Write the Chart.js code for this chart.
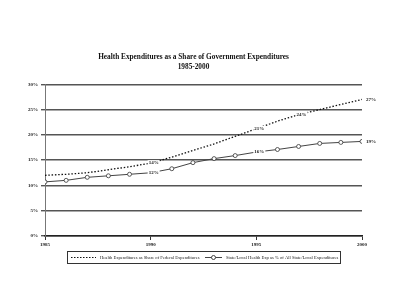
<!DOCTYPE html>
<html>

<head>
  <title>Health Expenditures as a Share of Government Expenditures</title>
  <script src="https://cdn.jsdelivr.net/npm/chart.js"></script>
  <style>
    body { margin: 0; background: #fff; }
  </style>
</head>

<body>
  <canvas id="myChart" width="400" height="306" style="display:block;width:400px;height:306px;"></canvas>
  <script>
    // data
    var years = [1985, 1986, 1987, 1988, 1989, 1990, 1991, 1992, 1993, 1994, 1995, 1996, 1997, 1998, 1999, 2000];
    var federalShare = [12.0, 12.2, 12.5, 13.1, 13.7, 14.4, 15.6, 16.9, 18.2, 19.7, 21.2, 22.7, 24.0, 25.0, 26.0, 27.0];
    var stateLocalShare = [10.7, 11.0, 11.6, 11.9, 12.2, 12.5, 13.3, 14.5, 15.3, 15.9, 16.6, 17.1, 17.7, 18.3, 18.5, 18.7];
    var federalLabelYears = [1990, 1995, 1997, 2000];
    var federalLabelText = ['14%', '21%', '24%', '27%'];
    var stateLabelYears = [1990, 1995, 2000];
    var stateLabelText = ['12%', '16%', '19%'];
    var xTicks = [1985, 1990, 1995, 2000];
    var yTicks = [0, 5, 10, 15, 20, 25, 30];
    var seriesNames = ['Health Expenditures as Share of Federal Expenditures', 'State/Local Health Exp as % of All State/Local Expenditures'];

    function toPoints(vals) {
      return years.map(function (yr, i) { return { x: yr, y: vals[i] }; });
    }

    // value labels + boxed legend
    var extras = {
      id: 'extras',
      afterDatasetsDraw: function (chart) {
        var c = chart.ctx;
        var xs = chart.scales.x, ys = chart.scales.y;
        c.save();
        c.font = 'bold 5px "Liberation Serif"';
        c.textBaseline = 'middle';
        function put(labYears, labText, vals) {
          labYears.forEach(function (yr, k) {
            var v = vals[years.indexOf(yr)];
            var px = xs.getPixelForValue(yr), py = ys.getPixelForValue(v);
            var w = c.measureText(labText[k]).width;
            var lx = (yr === 2000) ? px + 4 : px + 3 - w / 2;
            c.fillStyle = '#fff';
            c.fillRect(lx - 1, py - 3, w + 2, 6);
            c.fillStyle = '#222';
            c.textAlign = 'left';
            c.fillText(labText[k], lx, py);
          });
        }
        put(federalLabelYears, federalLabelText, federalShare);
        put(stateLabelYears, stateLabelText, stateLocalShare);

        // legend box
        var bx = 67, by = 251, bw = 273, bh = 12;
        c.strokeStyle = '#333';
        c.lineWidth = 1;
        c.strokeRect(bx + 0.5, by + 0.5, bw, bh);
        var my = by + bh / 2 + 0.5;
        c.setLineDash([1.5, 1.5]);
        c.lineWidth = 1.2;
        c.strokeStyle = '#111';
        c.beginPath(); c.moveTo(71, my); c.lineTo(96, my); c.stroke();
        c.setLineDash([]);
        c.lineWidth = 1;
        c.strokeStyle = '#444';
        c.beginPath(); c.moveTo(205, my); c.lineTo(222, my); c.stroke();
        c.beginPath(); c.arc(213.5, my, 2, 0, Math.PI * 2);
        c.fillStyle = '#fff'; c.fill(); c.stroke();
        c.font = '4.6px "Liberation Serif"';
        c.fillStyle = '#222';
        c.fillText(seriesNames[0], 100, my);
        c.fillText(seriesNames[1], 226, my);
        c.restore();
      }
    };

    var ctx = document.getElementById('myChart').getContext('2d');
    var chart = new Chart(ctx, {
      type: 'line',
      data: {
        datasets: [{
          label: seriesNames[0],
          data: toPoints(federalShare),
          borderColor: '#111',
          borderWidth: 1.3,
          borderDash: [1.5, 1.8],
          pointRadius: 0,
          fill: false
        }, {
          label: seriesNames[1],
          data: toPoints(stateLocalShare),
          borderColor: '#444',
          borderWidth: 1,
          pointRadius: 2,
          pointBorderWidth: 0.8,
          pointBackgroundColor: '#fff',
          pointBorderColor: '#333',
          fill: false
        }]
      },
      options: {
        responsive: false,
        animation: false,
        layout: { padding: { left: 25, right: 38, top: 0, bottom: 56 } },
        plugins: {
          legend: { display: false },
          tooltip: { enabled: false },
          title: {
            display: true,
            text: ['Health Expenditures as a Share of Government Expenditures', '1985-2000'],
            color: '#111',
            font: { family: '"Liberation Serif"', size: 7.3, weight: 'bold', lineHeight: 1.25 },
            padding: { top: 53, bottom: 13 }
          }
        },
        scales: {
          x: {
            type: 'linear',
            min: 1985,
            max: 2000,
            afterBuildTicks: function (axis) { axis.ticks = xTicks.map(function (v) { return { value: v }; }); },
            ticks: {
              callback: function (v) { return String(v); },
              color: '#222',
              font: { family: '"Liberation Serif"', size: 5, weight: 'bold' },
              maxRotation: 0,
              padding: 2
            },
            grid: { drawOnChartArea: false, color: '#333', tickLength: 4, lineWidth: 1 },
            border: { display: true, color: '#222', width: 1.5 }
          },
          y: {
            min: 0,
            max: 30,
            afterBuildTicks: function (axis) { axis.ticks = yTicks.map(function (v) { return { value: v }; }); },
            ticks: {
              callback: function (v) { return v + '%'; },
              color: '#222',
              font: { family: '"Liberation Serif"', size: 5, weight: 'bold' },
              padding: 3
            },
            grid: { color: '#555', lineWidth: 1.4, tickLength: 4 },
            border: { display: true, color: '#777', width: 1 }
          }
        }
      },
      plugins: [extras]
    });
  </script>
</body>

</html>
